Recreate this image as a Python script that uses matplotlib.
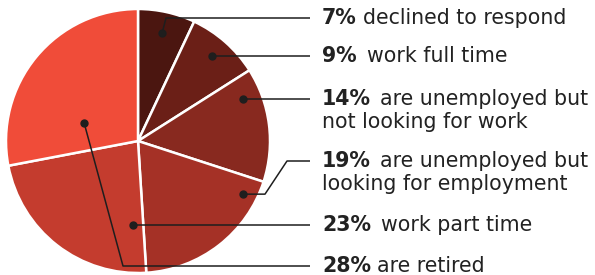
import numpy as np
import matplotlib.pyplot as plt

# data
shares = [7, 9, 14, 19, 23, 28]
pct_labels = ["7%", "9%", "14%", "19%", "23%", "28%"]
texts = ["declined to respond", "work full time",
         "are unemployed but\nnot looking for work",
         "are unemployed but\nlooking for employment",
         "work part time", "are retired"]
colors = ["#4b1610", "#6b1f17", "#88291f", "#a53126", "#c43c2e", "#f04c39"]

W, H = 595, 275
fig = plt.figure(figsize=(W / 100, H / 100), dpi=100)
ax = fig.add_axes([0, 0, 1, 1])

cx, cy, R = 138, H - 141, 132
wedges, _ = ax.pie(shares, colors=colors, startangle=90, counterclock=False,
                   center=(cx, cy), radius=R, frame=True,
                   wedgeprops=dict(edgecolor="white", linewidth=1.8))
ax.set_xlim(0, W)
ax.set_ylim(0, H)
ax.set_aspect("equal")
ax.axis("off")

# leader line layout: dot inside wedge (angle frac, radius frac)
dot_pos = [(0.5, 0.84), (0.49, 0.85), (0.21, 0.86), (0.13, 0.89), (0.085, 0.64), (0.29, 0.43)]
label_y = [18, 56, 99, 161, 226, 266]
knee1 = [None, None, None, 265, None, None]
knee2 = [166, None, None, 287, None, 123]
gap = [6, 10, 9, 9, 10, 6]
line_end, text_x = 310, 322

plt.rcParams['font.family'] = ['DejaVu Sans']
fs = 14.8
fig.canvas.draw()
renderer = fig.canvas.get_renderer()

for i, w in enumerate(wedges):
    fa, fr = dot_pos[i]
    # clockwise wedges: start at theta2, go down to theta1
    ang = np.deg2rad(w.theta2 - (w.theta2 - w.theta1) * fa)
    dx = cx + fr * R * np.cos(ang)
    dy = cy + fr * R * np.sin(ang)
    ly = H - label_y[i]
    xs, ys = [dx], [dy]
    if knee1[i] is not None:
        xs.append(knee1[i]); ys.append(dy)
    if knee2[i] is not None:
        xs.append(knee2[i]); ys.append(ly)
    elif knee1[i] is None:
        ly = dy
    xs.append(line_end); ys.append(ly)
    ax.plot(xs, ys, color="#1e1e1e", lw=1.1, solid_capstyle="butt")
    ax.plot(dx, dy, "o", color="#1e1e1e", ms=5)

    t = ax.text(text_x, ly, pct_labels[i], fontsize=fs, fontweight="bold",
                color="#222222", va="center", ha="left")
    bb = t.get_window_extent(renderer)
    x1 = ax.transData.inverted().transform((bb.x1, bb.y0))[0] + gap[i]
    lines = texts[i].split("\n")
    ax.text(x1, ly, lines[0], fontsize=fs, color="#222222", va="center", ha="left")
    for k, extra in enumerate(lines[1:], 1):
        ax.text(text_x, ly - 23 * k, extra, fontsize=fs, color="#222222",
                va="center", ha="left")

fig.savefig("out.png", dpi=100)
